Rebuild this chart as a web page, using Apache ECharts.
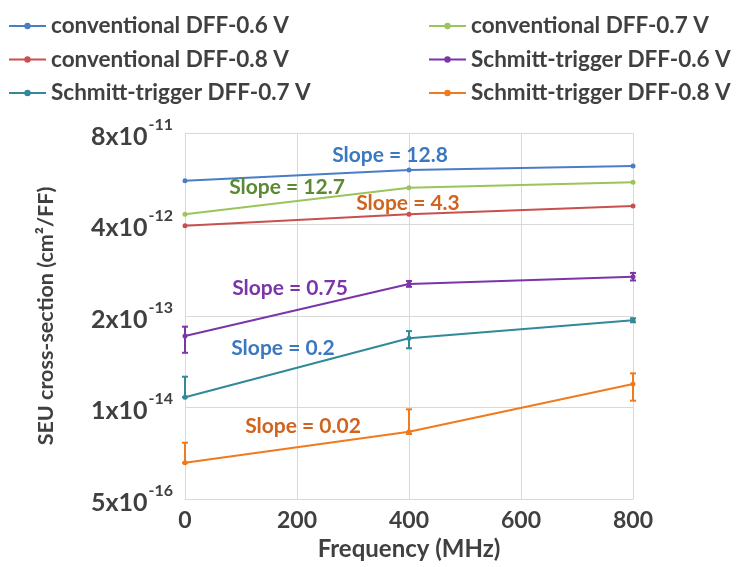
<!DOCTYPE html>
<html>
<head>
<meta charset="utf-8">
<script src="https://cdn.jsdelivr.net/npm/echarts@6/dist/echarts.min.js"></script>
<style>html,body{margin:0;padding:0;background:#fff}#c{width:742px;height:567px}</style>
</head>
<body>
<div id="c"></div>
<script>
const frequencies = [0, 400, 800];
const seriesNames = ['conventional DFF-0.6 V','conventional DFF-0.7 V','conventional DFF-0.8 V','Schmitt-trigger DFF-0.6 V','Schmitt-trigger DFF-0.7 V','Schmitt-trigger DFF-0.8 V'];
const conv06 = [1.68e-11, 2.38e-11, 2.72e-11];
const conv07 = [5.58e-12, 1.33e-11, 1.59e-11];
const conv08 = [3.85e-12, 5.58e-12, 7.33e-12];
const st06 = [1.04e-13, 5.70e-13, 7.24e-13];
const st07 = [1.40e-14, 9.64e-14, 1.74e-13];
const st08 = [1.64e-15, 4.53e-15, 2.16e-14];
// error bars [low, high]
const st06Err = [[6.0e-14, 1.41e-13], [5.2e-13, 6.3e-13], [6.4e-13, 8.2e-13]];
const st07Err = [[1.40e-14, 2.74e-14], [6.95e-14, 1.22e-13], [1.63e-13, 1.86e-13]];
const st08Err = [[1.64e-15, 3.16e-15], [4.2e-15, 9.42e-15], [1.25e-14, 3.06e-14]];
const yTicks = [5e-16, 1e-14, 2e-13, 4e-12, 8e-11];
const yTickLabels = [['5x10','-16'], ['1x10','-14'], ['2x10','-13'], ['4x10','-12'], ['8x10','-11']];
const xTicks = [0, 200, 400, 600, 800];
const slopeLabels = ['Slope = 12.8','Slope = 12.7','Slope = 4.3','Slope = 0.75','Slope = 0.2','Slope = 0.02'];

const colors = ['#4A7EC4','#9BC45A','#C85050','#7B35A8','#31899A','#F07A1E'];
const slopeColors = ['#3A78C0','#5A8A32','#D0641E','#7B35A8','#3A78C0','#D0641E'];
const seriesData = [conv06, conv07, conv08, st06, st07, st08];
const errData = {3: st06Err, 4: st07Err, 5: st08Err};
const FONT = 'Lato';
const TXT = '#404040';

const chart = echarts.init(document.getElementById('c'));

const series = [];
seriesData.forEach((d, i) => {
  series.push({
    name: seriesNames[i], type: 'line', z: 3,
    data: frequencies.map((f, j) => [f, d[j]]),
    symbol: 'circle', symbolSize: 5,
    lineStyle: {width: 2, color: colors[i]},
    itemStyle: {color: colors[i]},
    emphasis: {disabled: true}
  });
});
Object.keys(errData).forEach(k => {
  const i = +k;
  series.push({
    type: 'custom', z: 4, silent: true,
    data: frequencies.map((f, j) => [f, errData[i][j][0], errData[i][j][1]]),
    renderItem: function (params, api) {
      const lo = api.coord([api.value(0), api.value(1)]);
      const hi = api.coord([api.value(0), api.value(2)]);
      const w = 3;
      const style = {stroke: colors[i], lineWidth: 2, fill: 'none'};
      return {type: 'group', children: [
        {type: 'line', shape: {x1: lo[0], y1: lo[1], x2: hi[0], y2: hi[1]}, style: style},
        {type: 'line', shape: {x1: lo[0]-w, y1: lo[1], x2: lo[0]+w, y2: lo[1]}, style: style},
        {type: 'line', shape: {x1: hi[0]-w, y1: hi[1], x2: hi[0]+w, y2: hi[1]}, style: style}
      ]};
    }
  });
});

const slopePos = [[390,155],[287,187],[408,203],[290,288],[283,348],[303,426]];
const graphics = slopeLabels.map((t, i) => ({
  type: 'text', x: slopePos[i][0], y: slopePos[i][1], z: 10,
  style: {text: t, fill: slopeColors[i], font: 'bold 21px ' + FONT, textAlign: 'center', textVerticalAlign: 'middle'}
}));

const legendCommon = {
  orient: 'vertical', itemGap: 9.5, itemWidth: 37, itemHeight: 8,
  textStyle: {fontFamily: FONT, fontWeight: 'bold', fontSize: 22.5, lineHeight: 24, color: TXT},
  selectedMode: false
};

chart.setOption({
  animation: false,
  color: colors,
  grid: {left: 185, right: 109, top: 133, bottom: 68},
  legend: [
    Object.assign({left: 3, top: 9, data: [seriesNames[0], seriesNames[2], seriesNames[4]]}, legendCommon),
    Object.assign({left: 423, top: 9, data: [seriesNames[1], seriesNames[3], seriesNames[5]]}, legendCommon)
  ],
  xAxis: {
    type: 'value', min: 0, max: 800, interval: 200,
    name: 'Frequency (MHz)', nameLocation: 'middle', nameGap: 38,
    nameTextStyle: {fontFamily: FONT, fontWeight: 'bold', fontSize: 24, color: TXT},
    axisLine: {show: true, lineStyle: {color: '#d9d9d9'}},
    axisTick: {show: false},
    splitLine: {show: true, lineStyle: {color: '#d9d9d9', width: 1}},
    axisLabel: {fontFamily: FONT, fontWeight: 'bold', fontSize: 23, color: TXT, margin: 10,
      formatter: v => xTicks.indexOf(v) >= 0 ? String(v) : ''}
  },
  yAxis: {
    type: 'log', logBase: 20, min: yTicks[0], max: yTicks[yTicks.length-1], interval: 1,
    name: 'SEU cross-section (cm²/FF)', nameLocation: 'middle', nameGap: 128, nameRotate: 90,
    nameTextStyle: {fontFamily: FONT, fontWeight: 'bold', fontSize: 21.5, color: TXT},
    axisLine: {show: true, lineStyle: {color: '#d9d9d9'}},
    axisTick: {show: false},
    splitLine: {show: true, lineStyle: {color: '#d9d9d9', width: 1}},
    axisLabel: {
      margin: 12,
      formatter: function (v) {
        let best = 0, bd = Infinity;
        yTicks.forEach((t, i) => { const d = Math.abs(Math.log(v) - Math.log(t)); if (d < bd) { bd = d; best = i; } });
        return '{b|' + yTickLabels[best][0] + '}{s|' + yTickLabels[best][1] + '}';
      },
      rich: {
        b: {fontFamily: FONT, fontWeight: 'bold', fontSize: 25, color: TXT, verticalAlign: 'bottom', padding: [8,0,0,0]},
        s: {fontFamily: FONT, fontWeight: 'bold', fontSize: 16, color: TXT, verticalAlign: 'top', padding: [0,0,12,1]}
      }
    }
  },
  graphic: graphics,
  series: series
});
</script>
</body>
</html>
